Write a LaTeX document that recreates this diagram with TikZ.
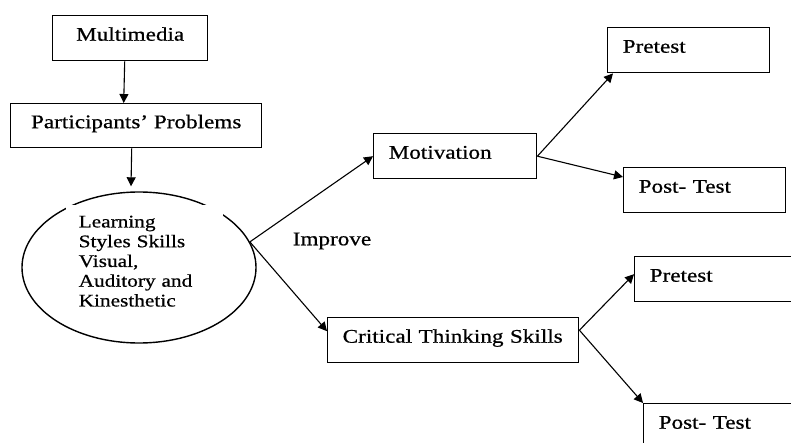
\documentclass[tikz,border=0pt]{standalone}
\usepackage{fontspec}
\setmainfont{Liberation Serif}[FakeStretch=1.2, FakeBold=0.6]
\usetikzlibrary{arrows.meta,shapes.geometric}

\begin{document}
\begin{tikzpicture}[x=1pt, y=-1pt, line width=1.4pt,
    box/.style={draw, rectangle, anchor=north west, inner sep=0pt, minimum height=45pt,
                text height=13pt, text depth=8pt, font=\fontsize{19.3}{22}\selectfont},
    lbox/.style={box, align=left, inner xsep=15pt, text width=#1},
    arr/.style={-{Triangle[length=9pt,width=9pt]}, line width=1.1pt}]
    \useasboundingbox (0,0) rectangle (791,443);

    % left column
    \node[box, minimum width=155pt] (mm) at (52,15) {Multimedia};
    \node[box, minimum width=251pt, minimum height=44pt] (pp) at (10,103) {Participants’ Problems};
    \node[draw, ellipse, minimum width=234pt, minimum height=151pt, inner sep=0pt] (ell) at (139,267.5) {};
    \node[fill=white, anchor=north west, align=left, text width=131pt, inner xsep=13pt, inner ysep=11pt,
          font=\fontsize{17.75}{19.75}\selectfont] (lstext) at (65,204)
          {Learning\\ Styles Skills\\ Visual,\\ Auditory and\\ Kinesthetic};
    \coordinate (fork) at (ell.13);

    \node[font=\fontsize{19.3}{22}\selectfont] (improve) at (332,241) {Improve};

    % middle and right columns
    \node[lbox=133pt] (motiv) at (373,133) {Motivation};
    \node[lbox=221pt] (crit)  at (327,317) {Critical Thinking Skills};
    \node[lbox=132pt] (pre1)  at (607,27)  {Pretest};
    \node[lbox=132pt] (post1) at (623,167) {Post- Test};
    \node[lbox=132pt] (pre2)  at (634,256) {Pretest};
    \node[lbox=132pt] (post2) at (643,403) {Post- Test};

    \draw[arr] ([xshift=-5.5pt]mm.south) -- ([xshift=-12.5pt]pp.north);
    \draw[arr] ([xshift=-4.5pt]pp.south) -- ([xshift=-8pt,yshift=5pt]ell.north);
    \draw[arr] (fork) -- (motiv.west);
    \draw[arr] (fork) -- ([yshift=9pt]crit.west);
    \draw[arr] (motiv.east) -- ([xshift=6pt]pre1.south west);
    \draw[arr] (motiv.east) -- ([yshift=-10pt]post1.north west);
    \draw[arr] ([yshift=10pt]crit.east) -- ([yshift=5pt]pre2.west);
    \draw[arr] ([yshift=10pt]crit.east) -- (post2.north west);
\end{tikzpicture}
\end{document}
